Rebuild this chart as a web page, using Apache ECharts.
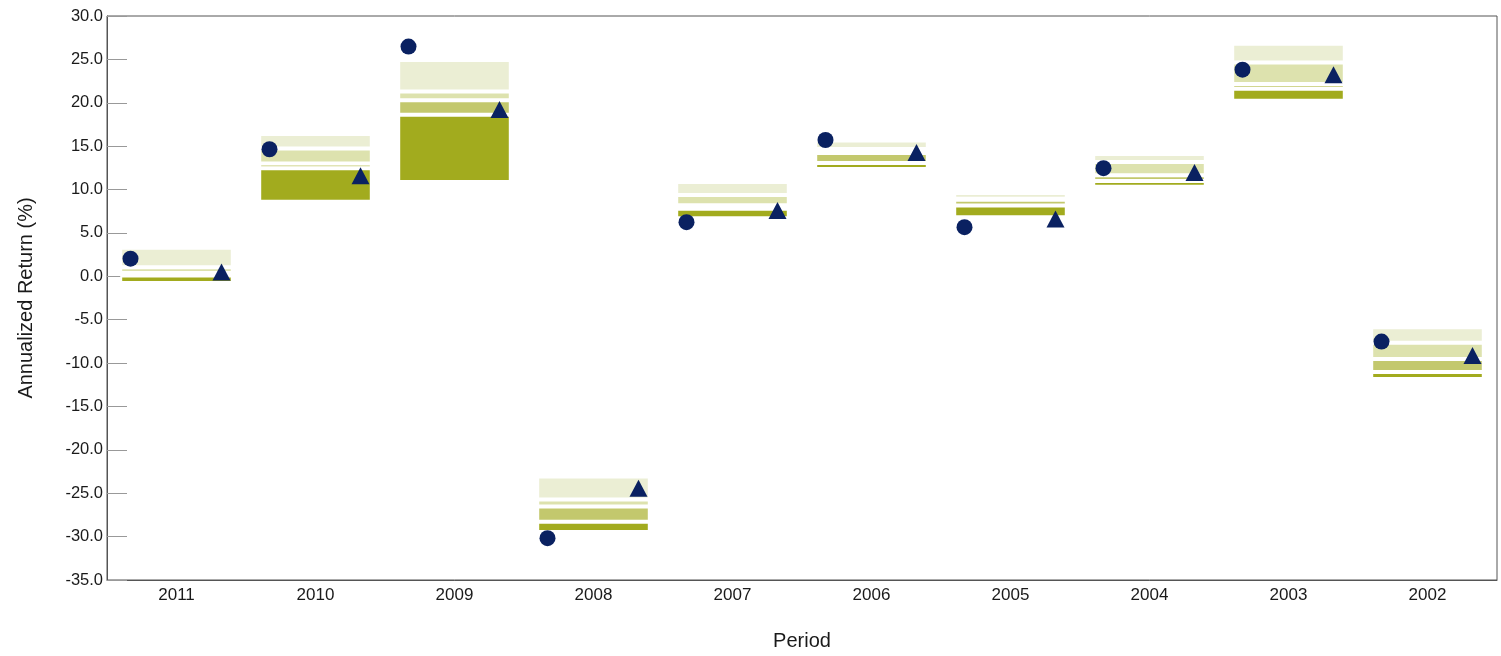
<!DOCTYPE html>
<html>
<head>
<meta charset="utf-8">
<script src="https://cdn.jsdelivr.net/npm/echarts@6/dist/echarts.min.js"></script>
<style>
html,body{margin:0;padding:0;background:#fff;}
#chart{width:1501px;height:656px;}
</style>
</head>
<body>
<div id="chart"></div>
<script>
// Categories (periods)
var periods = ['2011','2010','2009','2008','2007','2006','2005','2004','2003','2002'];
// Percentile band boundaries (top to bottom)
var p5  = [3.29, 16.39, 24.92, -23.08, 10.86, 15.64, 9.60, 14.10, 26.79, -5.88];
var p25 = [1.03, 14.73, 21.29, -25.71, 9.38, 14.67, 8.94, 13.17, 24.63, -7.66];
var p50 = [0.39, 13.01, 20.29, -26.52, 8.19, 14.22, 8.83, 11.66, 22.17, -9.52];
var p75 = [0.08, 12.44, 18.62, -28.29, 7.80, 13.05, 8.16, 10.97, 21.63, -11.02];
var p95 = [-0.76, 8.60, 10.86, -29.46, 6.70, 12.38, 6.81, 10.32, 20.22, -11.84];
// Markers
var circleValues   = [2.03, 14.64, 26.48, -30.18, 6.24, 15.71, 5.66, 12.46, 23.81, -7.52];
var triangleValues = [0.50, 11.58, 19.22, -24.42, 7.57, 14.26, 6.61, 11.97, 23.24, -9.13];
// Y axis ticks
var yMin = -35, yMax = 30, yStep = 5;

function diff(a, b){ return a.map(function(v,i){ return +(v - b[i]).toFixed(4); }); }

var bandStyle = function(color){
  return {color: color, borderColor: '#ffffff', borderWidth: 2};
};
var barW = '81%';
var txt = '#1a1a1a';
var font = 'Liberation Sans, Arial, sans-serif';

var chart = echarts.init(document.getElementById('chart'), null, {renderer:'canvas'});
chart.setOption({
  animation: false,
  backgroundColor: '#ffffff',
  grid: {left: 107, right: 4, top: 16, bottom: 73, show: true, borderColor: '#555', borderWidth: 1, containLabel: false},
  xAxis: {
    type: 'category',
    data: periods,
    boundaryGap: true,
    name: 'Period',
    nameLocation: 'middle',
    nameGap: 51,
    nameTextStyle: {fontFamily: font, fontSize: 20, color: txt},
    axisLine: {show: true, onZero: false, lineStyle: {color: '#555', width: 1}},
    axisTick: {show: false},
    axisLabel: {fontFamily: font, fontSize: 17, color: txt, margin: 7},
    splitLine: {show: false}
  },
  yAxis: {
    type: 'value',
    min: yMin, max: yMax, interval: yStep,
    name: 'Annualized Return (%)',
    nameLocation: 'middle',
    nameGap: 71,
    nameRotate: 90,
    nameTextStyle: {fontFamily: font, fontSize: 20, color: txt},
    axisLine: {show: true, lineStyle: {color: '#555', width: 1}},
    axisTick: {show: true, inside: true, length: 20, lineStyle: {color: '#999', width: 1}},
    axisLabel: {fontFamily: font, fontSize: 16.5, color: txt, margin: 4,
      formatter: function(v){ return v.toFixed(1); }},
    splitLine: {show: false}
  },
  series: [
    {name:'base', type:'bar', stack:'band', stackStrategy:'all', barWidth: barW,
     data: p95, itemStyle:{color:'rgba(0,0,0,0)', borderWidth:0}, silent:true},
    {name:'75th to 95th Percentile', type:'bar', stack:'band', stackStrategy:'all', barWidth: barW,
     data: diff(p75, p95), itemStyle: bandStyle('#a2ab1e')},
    {name:'Median to 75th Percentile', type:'bar', stack:'band', stackStrategy:'all', barWidth: barW,
     data: diff(p50, p75), itemStyle: bandStyle('#c3c86d')},
    {name:'25th Percentile to Median', type:'bar', stack:'band', stackStrategy:'all', barWidth: barW,
     data: diff(p25, p50), itemStyle: bandStyle('#dde2ae')},
    {name:'5th to 25th Percentile', type:'bar', stack:'band', stackStrategy:'all', barWidth: barW,
     data: diff(p5, p25), itemStyle: bandStyle('#ebeed4')},
    {name:'Portfolio', type:'scatter', data: circleValues, symbol:'circle', symbolSize: 16,
     symbolOffset: [-46, 0], itemStyle:{color:'#0a2161', opacity:1}, z: 10},
    {name:'Benchmark', type:'scatter', data: triangleValues, symbol:'triangle', symbolSize: [18, 17],
     symbolOffset: [45, 0], itemStyle:{color:'#0a2161', opacity:1}, z: 10}
  ]
});
</script>
</body>
</html>
